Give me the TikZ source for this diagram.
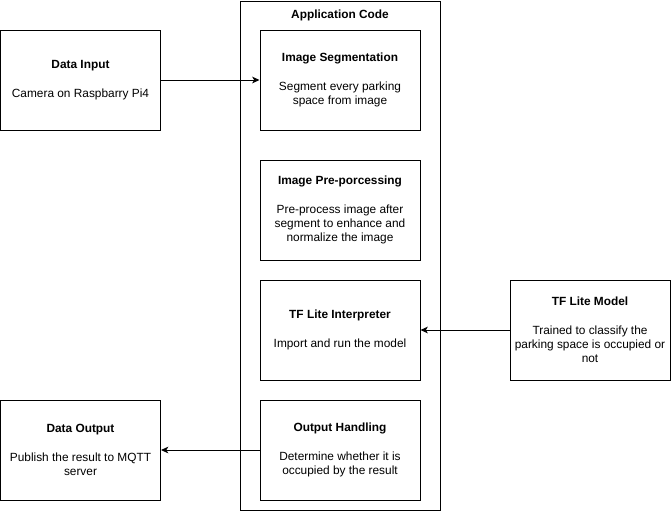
\documentclass[tikz,border=0pt]{standalone}
\usepackage{fontspec}
\setmainfont{Liberation Sans}
\usetikzlibrary{arrows.meta,positioning}

\begin{document}
\begin{tikzpicture}
  [
  x=0.75pt, y=-0.75pt, line width=0.75pt, draw=black,
  >={Stealth[length=5.5pt, width=5pt, inset=1.5pt]},
  font=\fontsize{8.9}{10.6}\selectfont,
  stepnode/.style={rectangle, draw=black, inner sep=0pt, align=center,
    minimum width=120pt, minimum height=75pt},
  groupnode/.style={rectangle, draw=black, inner sep=0pt,
    minimum width=150pt, minimum height=381.75pt}
  ]

  \useasboundingbox (0,0) rectangle (671,512);

  % application container
  \node[groupnode] (app) at (340,255.5) {};
  \node[font=\fontsize{8.9}{10.6}\selectfont\bfseries] (applabel) at (340,15) {Application Code};

  \node[stepnode] (seg) at (340,80)
    {\textbf{Image Segmentation}\\[11.2pt] Segment every parking\\ space from image};
  \node[stepnode] (pre) at (340,210)
    {\textbf{Image Pre-porcessing}\\[11.2pt] Pre-process image after\\ segment to enhance and\\ normalize the image};
  \node[stepnode] (interp) at (340,330)
    {\textbf{TF Lite Interpreter}\\[11.2pt] Import and run the model};
  \node[stepnode] (handle) at (340,450)
    {\textbf{Output Handling}\\[11.2pt] Determine whether it is\\ occupied by the result};

  % outside blocks
  \node[stepnode] (input) at (80.5,80)
    {\textbf{Data Input}\\[11.2pt] Camera on Raspbarry Pi4};
  \node[stepnode] (output) at (80.5,450)
    {\textbf{Data Output}\\[11.2pt] Publish the result to MQTT\\ server};
  \node[stepnode] (model) at (590,330)
    {\textbf{TF Lite Model}\\[11.2pt] Trained to classify the\\ parking space is occupied or\\ not};

  \draw[->] (input.east) -- (seg.west);
  \draw[->] (model.west) -- (interp.east);
  \draw[->] (handle.west) -- (output.east);
\end{tikzpicture}
\end{document}
